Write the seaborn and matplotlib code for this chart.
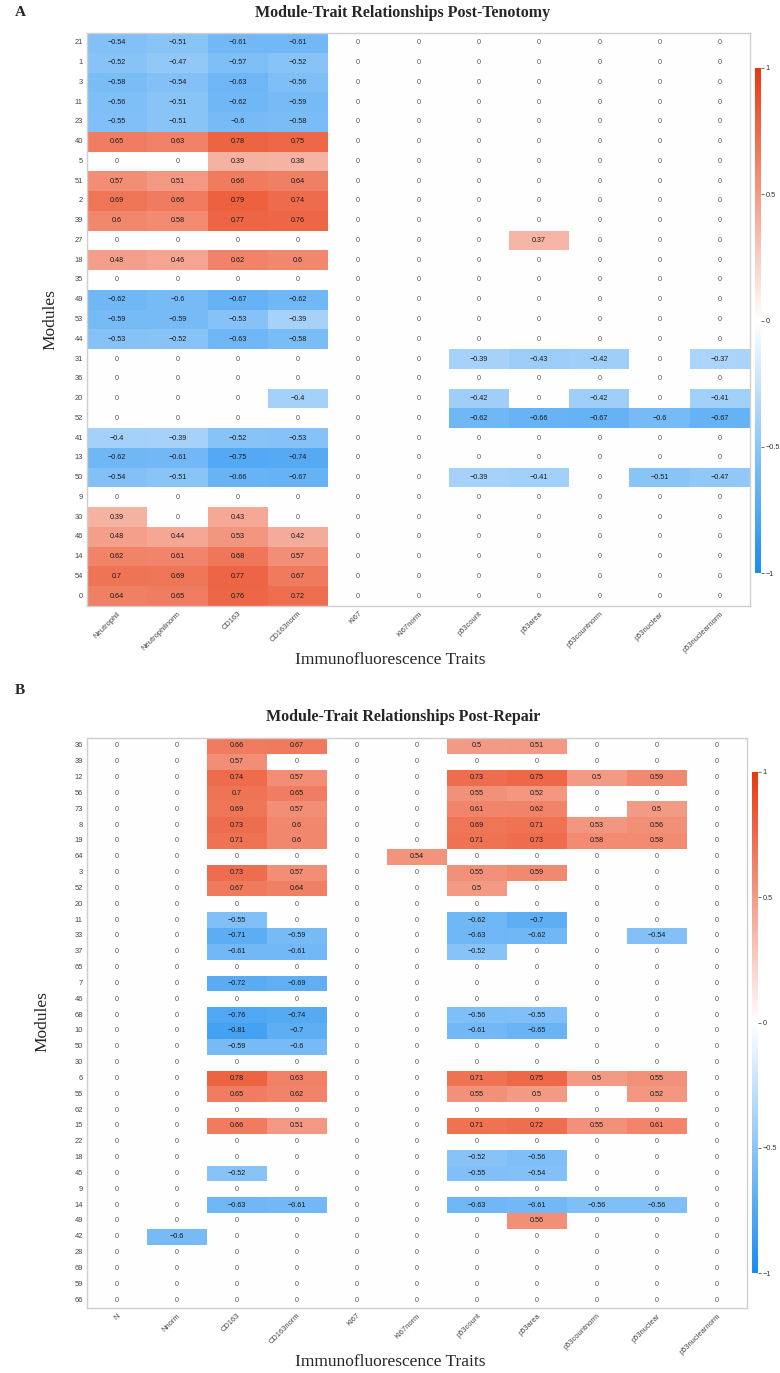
import numpy as np
import pandas as pd
import matplotlib
matplotlib.use("Agg")
import matplotlib.pyplot as plt
import seaborn as sns
from matplotlib.colors import LinearSegmentedColormap

# ---------------- Data ----------------
traits_a = ["Neutrophil", "Neutrophilnorm", "CD163", "CD163norm", "Ki67", "Ki67norm",
            "p53count", "p53area", "p53countnorm", "p53nuclear", "p53nuclearnorm"]
modules_a = ["21", "1", "3", "11", "23", "40", "5", "51", "2", "39", "27", "18", "35", "49",
             "53", "44", "31", "36", "20", "52", "41", "13", "50", "9", "30", "46", "14", "54", "0"]
values_a = [
    [-0.54, -0.51, -0.61, -0.61, 0, 0, 0, 0, 0, 0, 0],
    [-0.52, -0.47, -0.57, -0.52, 0, 0, 0, 0, 0, 0, 0],
    [-0.58, -0.54, -0.63, -0.56, 0, 0, 0, 0, 0, 0, 0],
    [-0.56, -0.51, -0.62, -0.59, 0, 0, 0, 0, 0, 0, 0],
    [-0.55, -0.51, -0.60, -0.58, 0, 0, 0, 0, 0, 0, 0],
    [0.65, 0.63, 0.78, 0.75, 0, 0, 0, 0, 0, 0, 0],
    [0, 0, 0.39, 0.38, 0, 0, 0, 0, 0, 0, 0],
    [0.57, 0.51, 0.66, 0.64, 0, 0, 0, 0, 0, 0, 0],
    [0.69, 0.66, 0.79, 0.74, 0, 0, 0, 0, 0, 0, 0],
    [0.60, 0.58, 0.77, 0.76, 0, 0, 0, 0, 0, 0, 0],
    [0, 0, 0, 0, 0, 0, 0, 0.37, 0, 0, 0],
    [0.48, 0.46, 0.62, 0.60, 0, 0, 0, 0, 0, 0, 0],
    [0, 0, 0, 0, 0, 0, 0, 0, 0, 0, 0],
    [-0.62, -0.60, -0.67, -0.62, 0, 0, 0, 0, 0, 0, 0],
    [-0.59, -0.59, -0.53, -0.39, 0, 0, 0, 0, 0, 0, 0],
    [-0.53, -0.52, -0.63, -0.58, 0, 0, 0, 0, 0, 0, 0],
    [0, 0, 0, 0, 0, 0, -0.39, -0.43, -0.42, 0, -0.37],
    [0, 0, 0, 0, 0, 0, 0, 0, 0, 0, 0],
    [0, 0, 0, -0.40, 0, 0, -0.42, 0, -0.42, 0, -0.41],
    [0, 0, 0, 0, 0, 0, -0.62, -0.66, -0.67, -0.60, -0.67],
    [-0.40, -0.39, -0.52, -0.53, 0, 0, 0, 0, 0, 0, 0],
    [-0.62, -0.61, -0.75, -0.74, 0, 0, 0, 0, 0, 0, 0],
    [-0.54, -0.51, -0.66, -0.67, 0, 0, -0.39, -0.41, 0, -0.51, -0.47],
    [0, 0, 0, 0, 0, 0, 0, 0, 0, 0, 0],
    [0.39, 0, 0.43, 0, 0, 0, 0, 0, 0, 0, 0],
    [0.48, 0.44, 0.53, 0.42, 0, 0, 0, 0, 0, 0, 0],
    [0.62, 0.61, 0.68, 0.57, 0, 0, 0, 0, 0, 0, 0],
    [0.70, 0.69, 0.77, 0.67, 0, 0, 0, 0, 0, 0, 0],
    [0.64, 0.65, 0.76, 0.72, 0, 0, 0, 0, 0, 0, 0],
]

traits_b = ["N", "Nnorm", "CD163", "CD163norm", "Ki67", "Ki67norm",
            "p53count", "p53area", "p53countnorm", "p53nuclear", "p53nuclearnorm"]
modules_b = ["36", "39", "12", "56", "73", "8", "19", "64", "3", "52", "20", "11", "33", "37",
             "65", "7", "46", "68", "10", "50", "30", "6", "55", "62", "15", "22", "18", "45",
             "9", "14", "49", "42", "28", "69", "59", "66"]
values_b = [
    [0, 0, 0.66, 0.67, 0, 0, 0.50, 0.51, 0, 0, 0],
    [0, 0, 0.57, 0, 0, 0, 0, 0, 0, 0, 0],
    [0, 0, 0.74, 0.57, 0, 0, 0.73, 0.75, 0.50, 0.59, 0],
    [0, 0, 0.70, 0.65, 0, 0, 0.55, 0.52, 0, 0, 0],
    [0, 0, 0.69, 0.57, 0, 0, 0.61, 0.62, 0, 0.50, 0],
    [0, 0, 0.73, 0.60, 0, 0, 0.69, 0.71, 0.53, 0.56, 0],
    [0, 0, 0.71, 0.60, 0, 0, 0.71, 0.73, 0.58, 0.58, 0],
    [0, 0, 0, 0, 0, 0.54, 0, 0, 0, 0, 0],
    [0, 0, 0.73, 0.57, 0, 0, 0.55, 0.59, 0, 0, 0],
    [0, 0, 0.67, 0.64, 0, 0, 0.50, 0, 0, 0, 0],
    [0, 0, 0, 0, 0, 0, 0, 0, 0, 0, 0],
    [0, 0, -0.55, 0, 0, 0, -0.62, -0.70, 0, 0, 0],
    [0, 0, -0.71, -0.59, 0, 0, -0.63, -0.62, 0, -0.54, 0],
    [0, 0, -0.61, -0.61, 0, 0, -0.52, 0, 0, 0, 0],
    [0, 0, 0, 0, 0, 0, 0, 0, 0, 0, 0],
    [0, 0, -0.72, -0.69, 0, 0, 0, 0, 0, 0, 0],
    [0, 0, 0, 0, 0, 0, 0, 0, 0, 0, 0],
    [0, 0, -0.76, -0.74, 0, 0, -0.56, -0.55, 0, 0, 0],
    [0, 0, -0.81, -0.70, 0, 0, -0.61, -0.65, 0, 0, 0],
    [0, 0, -0.59, -0.60, 0, 0, 0, 0, 0, 0, 0],
    [0, 0, 0, 0, 0, 0, 0, 0, 0, 0, 0],
    [0, 0, 0.78, 0.63, 0, 0, 0.71, 0.75, 0.50, 0.55, 0],
    [0, 0, 0.65, 0.62, 0, 0, 0.55, 0.50, 0, 0.52, 0],
    [0, 0, 0, 0, 0, 0, 0, 0, 0, 0, 0],
    [0, 0, 0.66, 0.51, 0, 0, 0.71, 0.72, 0.55, 0.61, 0],
    [0, 0, 0, 0, 0, 0, 0, 0, 0, 0, 0],
    [0, 0, 0, 0, 0, 0, -0.52, -0.56, 0, 0, 0],
    [0, 0, -0.52, 0, 0, 0, -0.55, -0.54, 0, 0, 0],
    [0, 0, 0, 0, 0, 0, 0, 0, 0, 0, 0],
    [0, 0, -0.63, -0.61, 0, 0, -0.63, -0.61, -0.56, -0.56, 0],
    [0, 0, 0, 0, 0, 0, 0, 0.56, 0, 0, 0],
    [0, -0.60, 0, 0, 0, 0, 0, 0, 0, 0, 0],
    [0, 0, 0, 0, 0, 0, 0, 0, 0, 0, 0],
    [0, 0, 0, 0, 0, 0, 0, 0, 0, 0, 0],
    [0, 0, 0, 0, 0, 0, 0, 0, 0, 0, 0],
    [0, 0, 0, 0, 0, 0, 0, 0, 0, 0, 0],
]

title_a = "Module-Trait Relationships Post-Tenotomy"
title_b = "Module-Trait Relationships Post-Repair"
xlabel = "Immunofluorescence Traits"
ylabel = "Modules"

# ---------------- Style ----------------
sns.set_style("white")
plt.rcParams["font.family"] = ["Liberation Sans", "DejaVu Sans"]
serif = ["Liberation Serif", "DejaVu Serif"]

cmap = LinearSegmentedColormap.from_list("bwr_custom", ["#1a8cf0", "#ffffff", "#e8380d"])

W, H = 780, 1373
fig = plt.figure(figsize=(W / 100, H / 100), dpi=100)


def fmt(v):
    if v == 0:
        return "0"
    s = ("%.2f" % v).rstrip("0").rstrip(".")
    return s.replace("-", "\u2212")


def panel(ax_rect, cb_rect, values, rows, cols, title, letter, letter_y, title_y, xlab_y):
    df = pd.DataFrame(values, index=rows, columns=cols)
    labels = df.map(fmt).values
    ax = fig.add_axes(ax_rect)
    cax = fig.add_axes(cb_rect)
    sns.heatmap(df, ax=ax, cbar_ax=cax, cmap=cmap, vmin=-1, vmax=1, center=0,
                annot=labels, fmt="", linewidths=0,
                annot_kws={"fontsize": 5.2})
    for t in ax.texts:
        t.set_color("#555555" if t.get_text() == "0" else "#1a1a1a")
    ax.tick_params(axis="both", length=0, labelsize=5.4, colors="#444444", pad=3)
    ax.set_yticklabels(rows, rotation=0)
    ax.set_xticklabels(cols, rotation=45, ha="right", rotation_mode="anchor")
    ax.set_xlabel("")
    ax.set_ylabel("")
    for sp in ax.spines.values():
        sp.set_visible(True)
        sp.set_color("#cfcfcf")
        sp.set_linewidth(1.0)
    cax.tick_params(length=2, width=0.5, labelsize=5.3, colors="#333333", pad=1.5)
    cax.set_yticks([-1, -0.5, 0, 0.5, 1])
    cax.set_yticklabels(["\u22121", "\u22120.5", "0", "0.5", "1"])
    for sp in cax.spines.values():
        sp.set_visible(False)
    fig.text(15 / W, 1 - letter_y / H, letter, fontsize=11, fontweight="bold",
             family=serif, ha="left", va="center")
    fig.text(403 / W, 1 - title_y / H, title, fontsize=11.5, fontweight="bold",
             family=serif, ha="center", va="center")
    fig.text(390 / W, 1 - xlab_y / H, xlabel, fontsize=12.5, family=serif,
             ha="center", va="center")
    return ax


# Panel A
panel([87 / W, 1 - 606 / H, 663 / W, 573 / H],
      [755 / W, 1 - 573 / H, 6 / W, 505 / H],
      values_a, modules_a, traits_a, title_a, "A", 13, 13, 660)
fig.text(50 / W, 1 - 320 / H, ylabel, fontsize=12.5, family=serif, rotation=90,
         ha="center", va="center")

# Panel B
panel([87 / W, 1 - 1308 / H, 660 / W, 570 / H],
      [752 / W, 1 - 1273 / H, 6 / W, 501 / H],
      values_b, modules_b, traits_b, title_b, "B", 690, 717, 1362)
fig.text(42 / W, 1 - 1022 / H, ylabel, fontsize=12.5, family=serif, rotation=90,
         ha="center", va="center")

fig.savefig("out.png", dpi=100)
